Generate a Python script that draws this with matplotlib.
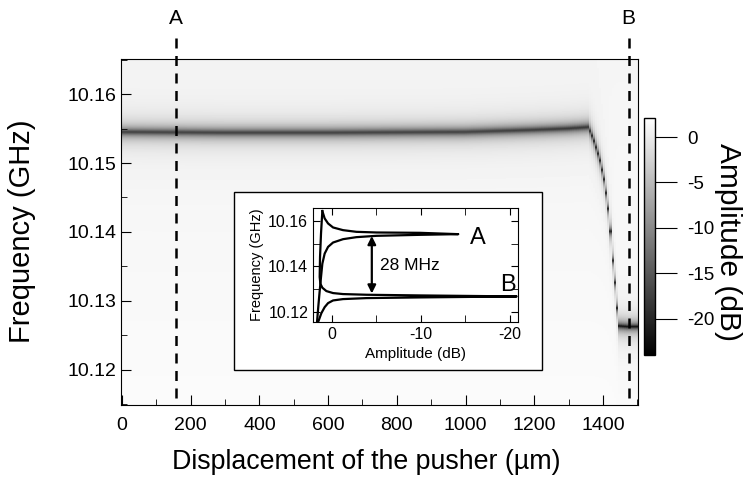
import numpy as np
import matplotlib
matplotlib.use("Agg")
import matplotlib.pyplot as plt
from matplotlib.patches import Rectangle
from matplotlib.ticker import MultipleLocator

plt.rcParams['font.family'] = ['Liberation Sans', 'DejaVu Sans']
plt.rcParams['axes.unicode_minus'] = False

# resonance track (pusher position in um, frequency in GHz, dip depth in dB)
track_pos = [0, 300, 600, 1000, 1200, 1300, 1357, 1372, 1391, 1406, 1420, 1425, 1435, 1444, 1470, 1500]
track_freq = [10.1544, 10.1543, 10.1543, 10.1544, 10.1547, 10.1549, 10.1551, 10.1534, 10.1505,
              10.1471, 10.1418, 10.1374, 10.1321, 10.1263, 10.1262, 10.1262]
track_depth = [-18, -18, -18, -18, -18.5, -19, -19, -21, -21, -21, -21, -21, -21, -23, -23, -23]
# background level of the map (frequency GHz, dB)
base_freq = [10.115, 10.1652]
base_db = [1.65, 1.05]
half_width = 0.0018  # GHz

# inset spectra: (frequency GHz, amplitude dB)
spec_a_freq = [10.16444, 10.16118, 10.15896, 10.15719, 10.15600, 10.15526, 10.15497, 10.15482,
               10.15423, 10.15393, 10.15349, 10.15290, 10.15201, 10.15053, 10.14860, 10.14564,
               10.14120, 10.13528, 10.12907, 10.12241, 10.11530]
spec_a_amp = [1.05, 0.79, 0.41, -0.15, -1.27, -2.77, -5.02, -9.89,
              -14.2, -9.89, -5.02, -2.77, -1.27, -0.15, 0.41, 0.79,
              1.05, 1.20, 1.35, 1.50, 1.65]
spec_b_freq = [10.16444, 10.15452, 10.14416, 10.13528, 10.13232, 10.13055, 10.12907, 10.12818,
               10.12774, 10.12744, 10.12714, 10.12670, 10.12626, 10.12596, 10.12552, 10.12492,
               10.12374, 10.12196, 10.11930, 10.11604, 10.11530]
spec_b_amp = [1.05, 1.20, 1.31, 1.35, 1.27, 1.05, 0.60, -0.15,
              -1.27, -3.90, -9.89, -20.75, -9.89, -3.90, -1.27, -0.15,
              0.41, 0.79, 1.16, 1.46, 1.54]

cut_a, cut_b = 157, 1475
x_ticks = [0, 200, 400, 600, 800, 1000, 1200, 1400]
y_ticks = [10.12, 10.13, 10.14, 10.15, 10.16]
cbar_ticks = [0, -5, -10, -15, -20]

# build the map, one spectrum every 6 um
pos = np.arange(0, 1506, 6)
freq = np.linspace(10.1148, 10.1653, 700)
f0 = np.interp(pos, track_pos, track_freq)
depth = np.interp(pos, track_pos, track_depth)
base = np.interp(freq, base_freq, base_db)
F = freq[:, None]
a = 1 - 10 ** (depth[None, :] / 20)
xx = (F - f0[None, :]) / half_width
Z = base[:, None] + 10 * np.log10(((1 - a) ** 2 + xx ** 2) / (1 + xx ** 2))

fig = plt.figure(figsize=(7.47, 4.79), dpi=100)
ax = fig.add_axes([0.162, 0.1545, 0.692, 0.7225])
im = ax.imshow(Z, origin='lower', aspect='auto', cmap='gray', vmin=-24, vmax=2.1,
               extent=[pos[0] - 3, pos[-1] + 3, freq[0], freq[-1]], interpolation='nearest')
ax.set_xlim(-3, 1502)
ax.set_ylim(10.1149, 10.1651)
ax.set_xticks(x_ticks)
ax.set_yticks(y_ticks)
ax.set_yticklabels([f"{v:.2f}" for v in y_ticks])
ax.xaxis.set_minor_locator(MultipleLocator(100))
ax.yaxis.set_minor_locator(MultipleLocator(0.005))
ax.tick_params(which='both', direction='in', labelsize=14, top=False, right=False)
ax.tick_params(which='major', length=7)
ax.tick_params(which='minor', length=4)
ax.tick_params(axis='x', pad=9)
fig.text(366 / 747, 1 - 462 / 479, 'Displacement of the pusher (µm)', fontsize=19.3,
         ha='center', va='center')
fig.text(22 / 747, 1 - 231 / 479, 'Frequency (GHz)', fontsize=21, rotation=90,
         ha='center', va='center')

# dashed cuts A and B
for xc, lab in [(cut_a, 'A'), (cut_b, 'B')]:
    ax.plot([xc, xc], [0.02, 1.069], color='black', lw=1.8, ls=(0, (4, 3)),
            transform=ax.get_xaxis_transform(), clip_on=False)
    ax.text(xc, 1.118, lab, transform=ax.get_xaxis_transform(), ha='center', va='center',
            fontsize=15)

# colorbar
cax = fig.add_axes([644 / 747, 1 - 355 / 479, 11 / 747, 237 / 479])
cb = fig.colorbar(im, cax=cax, ticks=cbar_ticks)
cb.outline.set_linewidth(1)
cax.tick_params(length=16, labelsize=13.5, pad=7)
fig.text(728 / 747, 1 - 242 / 479, 'Amplitude (dB)', fontsize=21.5, rotation=-90,
         ha='center', va='center')

# inset frame
box = Rectangle((0.313, 0.2276), 0.412, 0.3716, transform=fig.transFigure,
                facecolor='white', edgecolor='black', lw=1, zorder=3)
fig.patches.append(box)
ins = fig.add_axes([0.419, 0.3278, 0.2744, 0.238], zorder=4)
ins.plot(spec_a_amp, spec_a_freq, color='black', lw=1.6)
ins.plot(spec_b_amp, spec_b_freq, color='black', lw=1.6)
ins.set_xlim(2.1, -20.9)
ins.set_ylim(10.1154, 10.1658)
ins.set_xticks([0, -10, -20])
ins.set_yticks([10.12, 10.14, 10.16])
ins.set_yticklabels(['10.12', '10.14', '10.16'])
ins.xaxis.set_minor_locator(MultipleLocator(5))
ins.yaxis.set_minor_locator(MultipleLocator(0.01))
ins.tick_params(which='both', direction='in', top=True, right=True, labelsize=11.5)
ins.tick_params(which='major', length=5)
ins.tick_params(which='minor', length=5)
ins.set_xlabel('Amplitude (dB)', fontsize=11, labelpad=4)
ins.set_ylabel('Frequency (GHz)', fontsize=10.5, labelpad=3)
ins.annotate('', xy=(-4.5, 10.1534), xytext=(-4.5, 10.1280),
             arrowprops=dict(arrowstyle='<|-|>', color='black', lw=1.6, mutation_scale=12,
                             shrinkA=0, shrinkB=0))
ins.text(-5.4, 10.1404, '28 MHz', fontsize=12.5, ha='left', va='center')
ins.text(-16.4, 10.1524, 'A', fontsize=17, ha='center', va='center')
ins.text(-19.8, 10.1318, 'B', fontsize=17, ha='center', va='center')

fig.savefig('out.png', dpi=100)
